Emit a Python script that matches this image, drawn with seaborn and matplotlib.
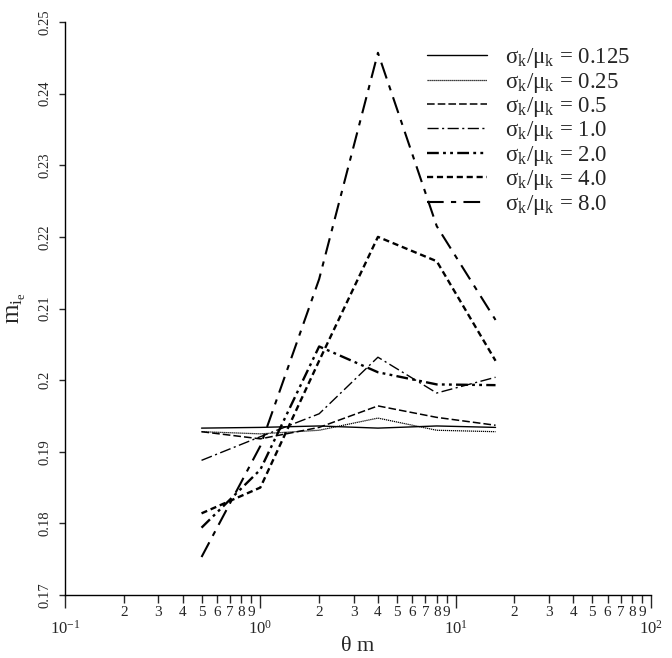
import numpy as np
import pandas as pd
import matplotlib
matplotlib.use("Agg")
import matplotlib.pyplot as plt
import seaborn as sns
from matplotlib.ticker import FixedLocator, FixedFormatter, LogLocator, FuncFormatter

# ---- data ----
theta_m = [0.5, 1, 2, 4, 8, 16]
ratio_labels = ["0.125", "0.25", "0.5", "1.0", "2.0", "4.0", "8.0"]
m_ie_0125 = [0.1933, 0.1934, 0.1936, 0.1933, 0.1936, 0.1934]
m_ie_025 = [0.1928, 0.1925, 0.1930, 0.1947, 0.1930, 0.1928]
m_ie_05 = [0.1928, 0.1918, 0.1934, 0.1964, 0.1948, 0.1937]
m_ie_1 = [0.1888, 0.1921, 0.1953, 0.2032, 0.1982, 0.2004]
m_ie_2 = [0.1794, 0.1875, 0.2047, 0.2011, 0.1994, 0.1993]
m_ie_4 = [0.1814, 0.1850, 0.2027, 0.2200, 0.2166, 0.2027]
m_ie_8 = [0.1753, 0.1908, 0.2141, 0.2457, 0.2215, 0.2084]

yticks = [0.17, 0.18, 0.19, 0.20, 0.21, 0.22, 0.23, 0.24, 0.25]
ytick_labels = ["0.17", "0.18", "0.19", "0.2", "0.21", "0.22", "0.23", "0.24", "0.25"]
xmajor = [0.1, 1, 10, 100]
xmajor_labels = [r"$10^{-1}$", r"$10^{0}$", r"$10^{1}$", r"$10^{2}$"]

series = [m_ie_0125, m_ie_025, m_ie_05, m_ie_1, m_ie_2, m_ie_4, m_ie_8]
rows = []
for lab, vals in zip(ratio_labels, series):
    for x, v in zip(theta_m, vals):
        rows.append({"ratio": lab, "theta_m": x, "m_ie": v})
df = pd.DataFrame(rows)

styles = {
    "0.125": ("-", 1.0),
    "0.25": ((0, (1.0, 0.6)), 0.9),
    "0.5": ((0, (5, 2)), 1.1),
    "1.0": ((0, (8, 2.5, 1.5, 2.5)), 1.0),
    "2.0": ((0, (5, 1.8, 1.2, 1.8, 1.2, 1.8)), 1.7),
    "4.0": ((0, (2.6, 1.6)), 1.7),
    "8.0": ((0, (8, 3.5, 2.5, 3.5)), 1.5),
}

sns.set_style("ticks")
plt.rcParams["font.family"] = ["Liberation Serif", "DejaVu Serif"]
plt.rcParams["mathtext.fontset"] = "custom"
plt.rcParams["mathtext.rm"] = "Liberation Serif"
plt.rcParams["mathtext.it"] = "Liberation Serif:italic"
plt.rcParams["mathtext.bf"] = "Liberation Serif:bold"

fig = plt.figure(figsize=(6.72, 6.58), dpi=100)
ax = fig.add_axes([65 / 672, 1 - 595 / 658, 586 / 672, 573 / 658])
ax.set_xscale("log")

for lab in ratio_labels:
    ls, lw = styles[lab]
    sns.lineplot(data=df[df["ratio"] == lab], x="theta_m", y="m_ie", ax=ax,
                 color="black", linestyle=ls, linewidth=lw,
                 label=r"$\mathrm{\sigma_k/\mu_k}$ = " + lab)

ax.set_xlim(0.1, 100)
ax.set_ylim(0.17, 0.25)

ax.xaxis.set_major_locator(FixedLocator(xmajor))
ax.xaxis.set_major_formatter(FixedFormatter(xmajor_labels))
ax.xaxis.set_minor_locator(LogLocator(base=10, subs=np.arange(2, 10)))
ax.xaxis.set_minor_formatter(FuncFormatter(lambda v, p: "%d" % round(v / 10 ** np.floor(np.log10(v) + 1e-9))))
ax.yaxis.set_major_locator(FixedLocator(yticks))
ax.yaxis.set_major_formatter(FixedFormatter(ytick_labels))

ax.tick_params(axis="x", which="major", direction="out", length=9.5, width=1.0, pad=8, labelsize=12)
ax.tick_params(axis="x", which="minor", direction="out", length=6, width=1.0, pad=2, labelsize=11)
ax.tick_params(axis="y", which="major", direction="out", length=4.5, width=1.0, pad=5, labelsize=10.5, labelrotation=90)
for t in ax.get_yticklabels():
    t.set_va("center")

for s in ["top", "right"]:
    ax.spines[s].set_visible(False)
for s in ["left", "bottom"]:
    ax.spines[s].set_linewidth(1.0)
    ax.spines[s].set_color("black")

ax.set_xlabel(r"$\mathrm{\theta}$ m", fontsize=16, labelpad=0)
ax.set_ylabel(r"$\mathrm{m_{i_e}}$", fontsize=18, labelpad=8)

ax.legend(loc="upper left", bbox_to_anchor=(0.618, 0.958), frameon=False,
          fontsize=16.5, handlelength=2.6, handletextpad=0.8, labelspacing=0.02,
          borderpad=0, borderaxespad=0)

fig.savefig("out.png", dpi=100)
